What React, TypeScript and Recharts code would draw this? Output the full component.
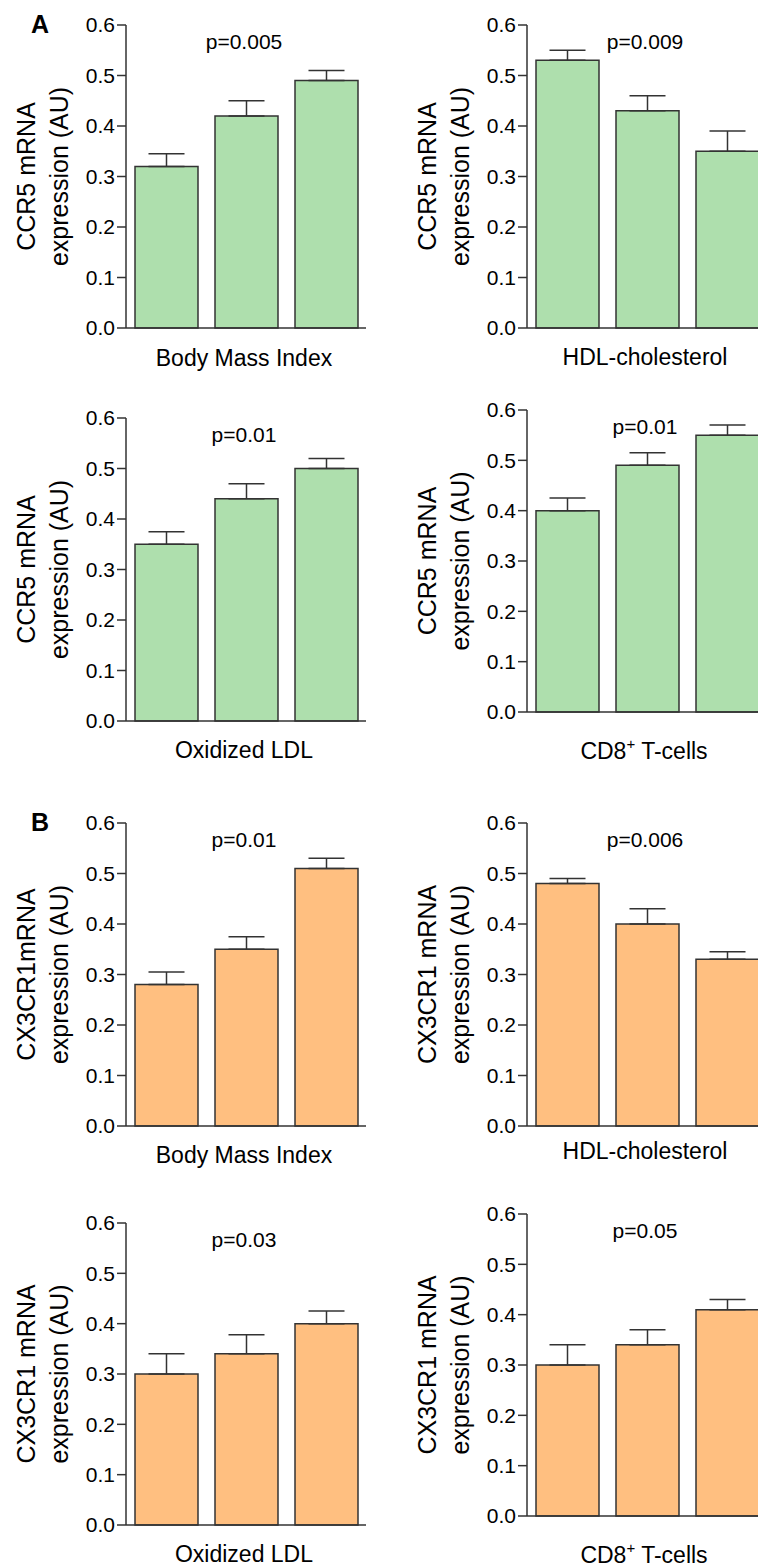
import React from 'react';
import { BarChart, Bar, XAxis, YAxis, ErrorBar, Label } from 'recharts';

// tertile groups (no tick labels on the x axis)
const tertiles = ['T1', 'T2', 'T3'];
const yTicks = [0, 0.1, 0.2, 0.3, 0.4, 0.5, 0.6];

// A: CCR5 mRNA expression (AU), mean and upper SEM
const ccr5Bmi = [0.32, 0.42, 0.49];
const ccr5BmiSem = [0.025, 0.03, 0.02];
const ccr5Hdl = [0.53, 0.43, 0.35];
const ccr5HdlSem = [0.02, 0.03, 0.04];
const ccr5OxLdl = [0.35, 0.44, 0.5];
const ccr5OxLdlSem = [0.025, 0.03, 0.02];
const ccr5Cd8 = [0.4, 0.49, 0.55];
const ccr5Cd8Sem = [0.025, 0.025, 0.02];

// B: CX3CR1 mRNA expression (AU)
const cx3cr1Bmi = [0.28, 0.35, 0.51];
const cx3cr1BmiSem = [0.025, 0.025, 0.02];
const cx3cr1Hdl = [0.48, 0.4, 0.33];
const cx3cr1HdlSem = [0.01, 0.03, 0.015];
const cx3cr1OxLdl = [0.3, 0.34, 0.4];
const cx3cr1OxLdlSem = [0.04, 0.038, 0.025];
const cx3cr1Cd8 = [0.3, 0.34, 0.41];
const cx3cr1Cd8Sem = [0.04, 0.03, 0.02];

const pValues = ['p=0.005', 'p=0.009', 'p=0.01', 'p=0.01', 'p=0.01', 'p=0.006', 'p=0.03', 'p=0.05'];

const ink = '#333';
const textInk = '#000';
const green = '#AEDFAD';
const orange = '#FFBF80';
const font = '"Liberation Sans", Arial, Helvetica, sans-serif';

type PanelProps = {
  values: number[];
  sem: number[];
  fill: string;
  yTitle: string[];
  xTitle: string;
  sup?: boolean;
  pText: string;
  letter?: string;
  col: number;
  top: number;
  bottom: number;
  xDy: number;
};

function Panel(p: PanelProps) {
  const left = p.col === 0 ? 0 : 380;
  const axisX = p.col === 0 ? 126 : 527;
  const width = p.col === 0 ? 380 : 390;
  const plotRight = axisX + 240;
  const plotH = p.bottom - p.top;
  const height = 25 + plotH + 60;
  const data = tertiles.map((t, i) => ({ name: t, value: p.values[i], err: [0, p.sem[i]] }));

  const yTitle = (props: any) => {
    const vb = props.viewBox;
    const cy = vb.y + vb.height / 2;
    const x1 = vb.x + vb.width - 91;
    const x2 = vb.x + vb.width - 58;
    return (
      <g fontFamily={font} fill={textInk}>
        <text x={x1} y={cy} fontSize={25} textAnchor="middle" transform={`rotate(-90, ${x1}, ${cy})`}>
          {p.yTitle[0]}
        </text>
        <text x={x2} y={cy} fontSize={25} textAnchor="middle" transform={`rotate(-90, ${x2}, ${cy})`}>
          {p.yTitle[1]}
        </text>
        {p.letter && (
          <text x={vb.x + 40} y={vb.y + 8} fontSize={25} fontWeight="bold" textAnchor="middle">
            {p.letter}
          </text>
        )}
      </g>
    );
  };

  const xTitle = (props: any) => {
    const vb = props.viewBox;
    const cx = vb.x + vb.width / 2;
    return (
      <g fontFamily={font} fill={textInk}>
        <text x={cx - 2} y={vb.y - plotH + 24} fontSize={21} textAnchor="middle">
          {p.pText}
        </text>
        {p.sup ? (
          <text x={cx - 3} y={vb.y + p.xDy} fontSize={23} textAnchor="middle">
            CD8<tspan dy={-10} fontSize={15}>+</tspan>
            <tspan dy={10}> T-cells</tspan>
          </text>
        ) : (
          <text x={cx - 2} y={vb.y + p.xDy} fontSize={23} textAnchor="middle">
            {p.xTitle}
          </text>
        )}
      </g>
    );
  };

  return (
    <div style={{ position: 'absolute', left, top: p.top - 25 }}>
      <BarChart
        width={width}
        height={height}
        data={data}
        margin={{ top: 25, right: left + width - plotRight, bottom: 10, left: 0 }}
        barSize={63}
      >
        <XAxis
          dataKey="name"
          tick={false}
          tickLine={false}
          height={50}
          axisLine={{ stroke: ink, strokeWidth: 1.5 }}
        >
          <Label content={xTitle} />
        </XAxis>
        <YAxis
          width={axisX - left}
          domain={[0, 0.6]}
          ticks={yTicks}
          tickFormatter={(v: number) => v.toFixed(1)}
          tickSize={9}
          tickLine={{ stroke: ink, strokeWidth: 1.5 }}
          axisLine={{ stroke: ink, strokeWidth: 1.5 }}
          tick={{ fill: textInk, fontSize: 21, fontFamily: font }}
        >
          <Label content={yTitle} />
        </YAxis>
        <Bar dataKey="value" fill={p.fill} stroke={ink} strokeWidth={1.5} isAnimationActive={false}>
          <ErrorBar dataKey="err" direction="y" width={18} stroke={ink} strokeWidth={1.5} />
        </Bar>
      </BarChart>
    </div>
  );
}

export default function App() {
  const ccr5 = ['CCR5 mRNA', 'expression (AU)'];
  return (
    <div
      style={{
        position: 'absolute',
        left: 0,
        top: 0,
        width: 758,
        height: 1568,
        overflow: 'hidden',
        background: '#fff',
      }}
    >
      <Panel values={ccr5Bmi} sem={ccr5BmiSem} fill={green} yTitle={ccr5} xTitle="Body Mass Index"
        pText={pValues[0]} letter="A" col={0} top={25} bottom={328} xDy={38} />
      <Panel values={ccr5Hdl} sem={ccr5HdlSem} fill={green} yTitle={ccr5} xTitle="HDL-cholesterol"
        pText={pValues[1]} col={1} top={25} bottom={328} xDy={37} />
      <Panel values={ccr5OxLdl} sem={ccr5OxLdlSem} fill={green} yTitle={ccr5} xTitle="Oxidized LDL"
        pText={pValues[2]} col={0} top={418} bottom={721} xDy={37} />
      <Panel values={ccr5Cd8} sem={ccr5Cd8Sem} fill={green} yTitle={ccr5} xTitle="CD8+ T-cells" sup
        pText={pValues[3]} col={1} top={410} bottom={712} xDy={47} />
      <Panel values={cx3cr1Bmi} sem={cx3cr1BmiSem} fill={orange} yTitle={['CX3CR1mRNA', 'expression (AU)']}
        xTitle="Body Mass Index" pText={pValues[4]} letter="B" col={0} top={823} bottom={1126} xDy={37} />
      <Panel values={cx3cr1Hdl} sem={cx3cr1HdlSem} fill={orange} yTitle={['CX3CR1 mRNA', 'expression (AU)']}
        xTitle="HDL-cholesterol" pText={pValues[5]} col={1} top={823} bottom={1126} xDy={33} />
      <Panel values={cx3cr1OxLdl} sem={cx3cr1OxLdlSem} fill={orange} yTitle={['CX3CR1 mRNA', 'expression (AU)']}
        xTitle="Oxidized LDL" pText={pValues[6]} col={0} top={1223} bottom={1525} xDy={37} />
      <Panel values={cx3cr1Cd8} sem={cx3cr1Cd8Sem} fill={orange} yTitle={['CX3CR1 mRNA', 'expression (AU)']}
        xTitle="CD8+ T-cells" sup pText={pValues[7]} col={1} top={1214} bottom={1516} xDy={47} />
    </div>
  );
}
